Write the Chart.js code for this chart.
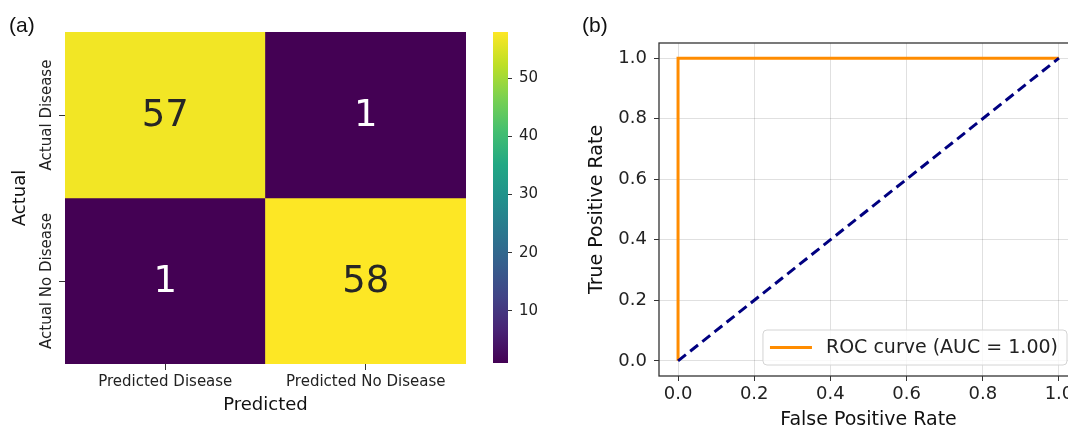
<!DOCTYPE html>
<html>
<head>
<meta charset="utf-8">
<script src="https://cdn.jsdelivr.net/npm/chart.js@4.4.1/dist/chart.umd.min.js"></script>
<style>
  body { margin: 0; background: #fff; overflow: hidden; width: 1068px; height: 430px; position: relative; }
  canvas { position: absolute; top: 0; }
</style>
</head>
<body>
<canvas id="matrixChart" width="480" height="430" style="left:0;width:480px;height:430px"></canvas>
<canvas id="barChart" width="100" height="430" style="left:480px;width:100px;height:430px"></canvas>
<canvas id="rocChart" width="530" height="430" style="left:570px;width:530px;height:430px"></canvas>
<script>
// datos del panel (a): matriz de confusión
const predictedLabels = ['Predicted Disease', 'Predicted No Disease'];
const actualLabels = ['Actual Disease', 'Actual No Disease'];
const rowActualDisease = [57, 1];
const rowActualNoDisease = [1, 58];
const colorMin = 1;
const colorMax = 58;
const colorbarTicks = [10, 20, 30, 40, 50];

// datos del panel (b): curva ROC
const rocFpr = [0, 0, 1];
const rocTpr = [0, 1, 1];
const chanceFpr = [0, 1];
const chanceTpr = [0, 1];
const rocTicks = [0, 0.2, 0.4, 0.6, 0.8, 1.0];
const aucValue = 1.00;

Chart.defaults.font.family = "'DejaVu Sans', sans-serif";
Chart.defaults.color = '#222';
Chart.defaults.animation = false;

// mapa de color viridis
const viridisStops = ['#440154', '#482475', '#414487', '#355f8d', '#2a788e', '#21918c',
                      '#22a884', '#44bf70', '#7ad151', '#bddf26', '#fde725'];

function hexToRgb(h) {
    return [parseInt(h.slice(1, 3), 16), parseInt(h.slice(3, 5), 16), parseInt(h.slice(5, 7), 16)];
}

function viridis(t) {
    t = Math.max(0, Math.min(1, t));
    const pos = t * (viridisStops.length - 1);
    const i = Math.min(Math.floor(pos), viridisStops.length - 2);
    const f = pos - i;
    const a = hexToRgb(viridisStops[i]);
    const b = hexToRgb(viridisStops[i + 1]);
    const c = a.map((v, k) => Math.round(v + (b[k] - v) * f));
    return `rgb(${c[0]},${c[1]},${c[2]})`;
}

const matrixRows = [rowActualDisease, rowActualNoDisease];

// Texto de celdas, etiquetas rotadas y "(a)"
const matrixText = {
    id: 'matrixText',
    afterDatasetsDraw(chart) {
        const ctx = chart.ctx;
        const xs = chart.scales.x;
        const ys = chart.scales.y;
        ctx.save();
        ctx.textAlign = 'center';
        ctx.textBaseline = 'middle';
        ctx.font = "37px 'DejaVu Sans'";
        matrixRows.forEach((row, r) => {
            row.forEach((v, c) => {
                ctx.fillStyle = v > (colorMin + colorMax) / 2 ? '#262626' : '#ffffff';
                ctx.fillText(String(v), xs.getPixelForValue(c), ys.getPixelForValue(r + 0.5) + 1);
            });
        });
        ctx.fillStyle = '#222';
        ctx.font = "15px 'DejaVu Sans'";
        actualLabels.forEach((lab, r) => {
            ctx.save();
            ctx.translate(47, ys.getPixelForValue(r + 0.5));
            ctx.rotate(-Math.PI / 2);
            ctx.fillText(lab, 0, 0);
            ctx.restore();
        });
        ctx.font = "21px 'Liberation Sans'";
        ctx.textAlign = 'left';
        ctx.fillStyle = '#111';
        ctx.fillText('(a)', 9, 26);
        ctx.restore();
    }
};

new Chart(document.getElementById('matrixChart'), {
    type: 'bar',
    data: {
        labels: predictedLabels,
        datasets: matrixRows.map((row, r) => ({
            label: actualLabels[r],
            data: row.map(() => [r, r + 1]),
            backgroundColor: row.map(v => viridis((v - colorMin) / (colorMax - colorMin))),
            borderWidth: 0,
            barPercentage: 1,
            categoryPercentage: 1,
            grouped: false
        }))
    },
    options: {
        responsive: false,
        layout: { padding: { left: 0, top: 32, right: 14, bottom: 0 } },
        plugins: { legend: { display: false }, tooltip: { enabled: false } },
        scales: {
            x: {
                type: 'category',
                offset: true,
                grid: { drawOnChartArea: false, drawTicks: true, tickLength: 6, tickColor: '#333', offset: false },
                border: { display: false },
                ticks: { font: { size: 15 }, color: '#222', padding: 3, maxRotation: 0 },
                title: { display: true, text: 'Predicted', font: { size: 18 }, color: '#111', padding: { top: 0, bottom: 14 } },
                afterFit: s => { s.height = 66; }
            },
            y: {
                type: 'linear',
                min: 0,
                max: 2,
                reverse: true,
                afterBuildTicks: s => { s.ticks = [0.5, 1.5].map(v => ({ value: v })); },
                ticks: { callback: () => '' },
                grid: { drawOnChartArea: false, drawTicks: true, tickLength: 6, tickColor: '#333' },
                border: { display: false },
                title: { display: true, text: 'Actual', font: { size: 18 }, color: '#111', padding: { top: 10, bottom: 0 } },
                afterFit: s => { s.width = 65; }
            }
        }
    },
    plugins: [matrixText]
});

// barra de color
new Chart(document.getElementById('barChart'), {
    type: 'bar',
    data: {
        labels: [''],
        datasets: [{
            data: [[colorMin, colorMax]],
            backgroundColor: c => {
                const ys = c.chart.scales.y;
                if (!c.chart.chartArea || !ys) return viridisStops[0];
                const y0 = ys.getPixelForValue(colorMin);
                const y1 = ys.getPixelForValue(colorMax);
                if (!Number.isFinite(y0) || !Number.isFinite(y1)) return viridisStops[0];
                const g = c.chart.ctx.createLinearGradient(0, y0, 0, y1);
                viridisStops.forEach((col, i) => g.addColorStop(i / (viridisStops.length - 1), col));
                return g;
            },
            borderWidth: 0,
            barPercentage: 1,
            categoryPercentage: 1
        }]
    },
    options: {
        responsive: false,
        layout: { padding: { left: 13, top: 32, right: 0, bottom: 67 } },
        plugins: { legend: { display: false }, tooltip: { enabled: false } },
        scales: {
            x: { display: false },
            y: {
                position: 'right',
                min: colorMin,
                max: colorMax,
                afterBuildTicks: s => { s.ticks = colorbarTicks.map(v => ({ value: v })); },
                ticks: { font: { size: 15 }, color: '#222', padding: 7 },
                grid: { drawOnChartArea: false, drawTicks: true, tickLength: 4, tickColor: '#333' },
                border: { display: false },
                afterFit: s => { s.width = 72; }
            }
        }
    }
});

// Marco, leyenda y "(b)"
const rocExtras = {
    id: 'rocExtras',
    afterDraw(chart) {
        const ctx = chart.ctx;
        const a = chart.chartArea;
        ctx.save();
        ctx.strokeStyle = '#333';
        ctx.lineWidth = 1.3;
        ctx.strokeRect(a.left, a.top, a.right - a.left, a.bottom - a.top);

        const ds = chart.data.datasets[1];
        ctx.font = "19px 'DejaVu Sans'";
        const tw = ctx.measureText(ds.label).width;
        const w = 63 + tw + 9;
        const h = 35;
        const right = a.right - 11;
        const bottom = a.bottom - 11;
        const left = right - w;
        const top = bottom - h;
        ctx.beginPath();
        ctx.roundRect(left, top, w, h, 4);
        ctx.fillStyle = 'rgba(255,255,255,0.8)';
        ctx.fill();
        ctx.strokeStyle = '#d4d4d4';
        ctx.lineWidth = 1;
        ctx.stroke();
        ctx.beginPath();
        ctx.moveTo(left + 7, top + h / 2);
        ctx.lineTo(left + 49, top + h / 2);
        ctx.strokeStyle = ds.borderColor;
        ctx.lineWidth = ds.borderWidth;
        ctx.stroke();
        ctx.fillStyle = '#222';
        ctx.textBaseline = 'middle';
        ctx.fillText(ds.label, left + 63, top + h / 2 + 1);

        ctx.font = "21px 'Liberation Sans'";
        ctx.fillStyle = '#111';
        ctx.fillText('(b)', 12, 26);
        ctx.restore();
    }
};

new Chart(document.getElementById('rocChart'), {
    type: 'scatter',
    data: {
        datasets: [
            {
                label: 'chance',
                data: chanceFpr.map((x, i) => ({ x: x, y: chanceTpr[i] })),
                showLine: true,
                borderColor: '#000080',
                borderWidth: 3,
                borderDash: [10, 5.5],
                pointRadius: 0,
                order: 0
            },
            {
                label: `ROC curve (AUC = ${aucValue.toFixed(2)})`,
                data: rocFpr.map((x, i) => ({ x: x, y: rocTpr[i] })),
                showLine: true,
                borderColor: '#ff8c00',
                borderWidth: 3,
                pointRadius: 0,
                order: 1
            }
        ]
    },
    options: {
        responsive: false,
        layout: { padding: { left: 0, top: 43, right: 22, bottom: 0 } },
        plugins: { legend: { display: false }, tooltip: { enabled: false } },
        scales: {
            x: {
                type: 'linear',
                min: -0.05,
                max: 1.05,
                afterBuildTicks: s => { s.ticks = rocTicks.map(v => ({ value: v })); },
                ticks: { font: { size: 18 }, color: '#222', padding: 3, callback: v => v.toFixed(1), maxRotation: 0 },
                grid: { color: 'rgba(0,0,0,0.12)', tickColor: '#333', tickLength: 5, lineWidth: 1 },
                border: { display: false },
                title: { display: true, text: 'False Positive Rate', font: { size: 19, lineHeight: 1 }, color: '#111', padding: { top: 0, bottom: 0 } },
                afterFit: s => { s.height = 54; }
            },
            y: {
                type: 'linear',
                min: -0.05,
                max: 1.05,
                afterBuildTicks: s => { s.ticks = rocTicks.map(v => ({ value: v })); },
                ticks: { font: { size: 18 }, color: '#222', padding: 7, callback: v => v.toFixed(1) },
                grid: { color: 'rgba(0,0,0,0.12)', tickColor: '#333', tickLength: 5, lineWidth: 1 },
                border: { display: false },
                title: { display: true, text: 'True Positive Rate', font: { size: 19, lineHeight: 1 }, color: '#111', padding: { top: 18, bottom: 0 } },
                afterFit: s => { s.width = 89; }
            }
        }
    },
    plugins: [rocExtras]
});
</script>
</body>
</html>
